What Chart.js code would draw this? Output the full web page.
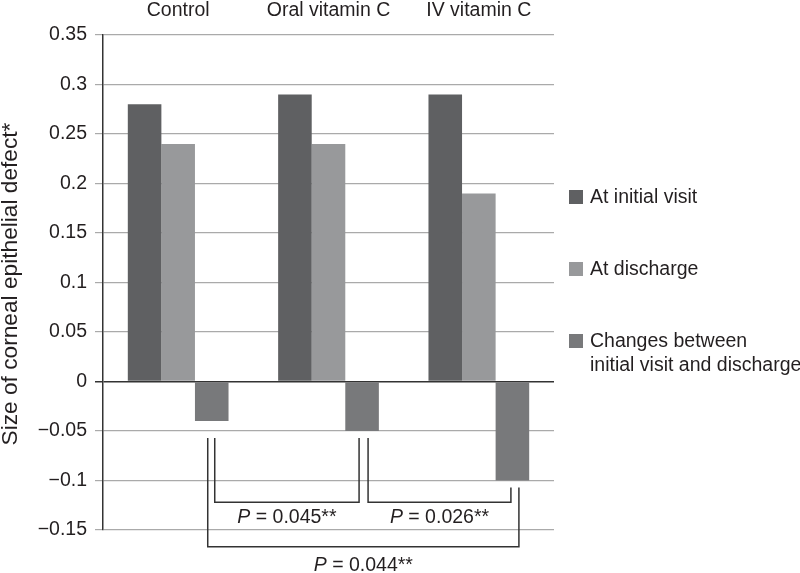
<!DOCTYPE html>
<html>
<head>
<meta charset="utf-8">
<script src="https://cdn.jsdelivr.net/npm/chart.js@4.4.1/dist/chart.umd.min.js"></script>
<style>
  html, body { margin: 0; padding: 0; background: #fff; }
  #wrap { width: 800px; height: 573px; position: relative; }
</style>
</head>
<body>
<div id="wrap"><canvas id="c" width="800" height="573"></canvas></div>
<script>
// ---- data ----
const categories = ['Control', 'Oral vitamin C', 'IV vitamin C'];
const seriesLabels = ['At initial visit', 'At discharge', 'Changes between\ninitial visit and discharge'];
const initialVisit = [0.28, 0.29, 0.29];
const atDischarge = [0.24, 0.24, 0.19];
const changes = [-0.04, -0.05, -0.10];
const yMin = -0.15, yMax = 0.35, yStep = 0.05;
const yTitle = 'Size of corneal epithelial defect*';
// comparisons between groups (indices into categories) with P values
const compFrom = [0, 1, 0];
const compTo = [1, 2, 2];
const compLevel = [-0.122, -0.122, -0.167];
const compP = ['0.045', '0.026', '0.044'];

const colors = ['#5f6062', '#98999b', '#78797b'];
const FONT = '"Liberation Sans", Arial, Helvetica, sans-serif';
const TEXT = '#231f20';

const fmt = v => {
  const r = Math.round(v * 100) / 100;
  const s = String(Math.abs(r));
  return r < 0 ? '\u2212' + s : s;
};

const extras = {
  id: 'extras',
  afterDraw(chart) {
    const ctx = chart.ctx;
    const y = chart.scales.y;
    const meta = chart.getDatasetMeta(2);
    ctx.save();
    // y title
    ctx.save();
    ctx.font = '22.7px ' + FONT;
    ctx.fillStyle = TEXT;
    ctx.textAlign = 'center';
    ctx.textBaseline = 'alphabetic';
    ctx.translate(17, 284);
    ctx.rotate(-Math.PI / 2);
    ctx.fillText(yTitle, 0, 0);
    ctx.restore();

    // legend
    const legY = [198, 270, 342];
    seriesLabels.forEach((lab, i) => {
      ctx.fillStyle = colors[i];
      ctx.fillRect(569, legY[i] - 8, 14, 14);
      ctx.fillStyle = TEXT;
      ctx.font = '19.5px ' + FONT;
      ctx.textAlign = 'left';
      ctx.textBaseline = 'middle';
      lab.split('\n').forEach((ln, k) => ctx.fillText(ln, 590, legY[i] + k * 24));
    });

    // comparison brackets
    ctx.strokeStyle = '#333';
    ctx.lineWidth = 1.5;
    const offs = [[3, -3], [6, -1.5], [-4, 6.5]];
    compFrom.forEach((a, i) => {
      const b = compTo[i];
      const xa = meta.data[a].x + offs[i][0];
      const xb = meta.data[b].x + offs[i][1];
      const ya = y.getPixelForValue(Math.min(changes[a], -0.05) - 0.007);
      const yb = y.getPixelForValue(Math.min(changes[b], -0.05) - 0.007);
      const yl = y.getPixelForValue(compLevel[i]);
      ctx.beginPath();
      ctx.moveTo(xa, ya); ctx.lineTo(xa, yl); ctx.lineTo(xb, yl); ctx.lineTo(xb, yb);
      ctx.stroke();
      // label
      const cx = (xa + xb) / 2;
      const ty = yl + (i === 2 ? 19 : 15);
      ctx.textBaseline = 'middle';
      ctx.textAlign = 'left';
      ctx.font = 'italic 19.5px ' + FONT;
      const wP = ctx.measureText('P').width;
      ctx.font = '19.5px ' + FONT;
      const rest = ' = ' + compP[i] + '**';
      const wR = ctx.measureText(rest).width;
      const x0 = cx - (wP + wR) / 2;
      ctx.fillStyle = TEXT;
      ctx.font = 'italic 19.5px ' + FONT;
      ctx.fillText('P', x0, ty);
      ctx.font = '19.5px ' + FONT;
      ctx.fillText(rest, x0 + wP, ty);
    });
    ctx.restore();
  }
};

new Chart(document.getElementById('c'), {
  type: 'bar',
  data: {
    labels: categories,
    datasets: [
      { label: seriesLabels[0], data: initialVisit, backgroundColor: colors[0] },
      { label: seriesLabels[1], data: atDischarge, backgroundColor: colors[1] },
      { label: seriesLabels[2], data: changes, backgroundColor: colors[2] }
    ]
  },
  options: {
    responsive: false,
    devicePixelRatio: 1,
    animation: false,
    layout: { padding: { top: 0, left: 0, right: 246, bottom: 43 } },
    datasets: { bar: { categoryPercentage: 0.67, barPercentage: 1.0, borderWidth: 0 } },
    plugins: { legend: { display: false }, tooltip: { enabled: false } },
    scales: {
      x: {
        position: 'top',
        grid: { display: false, drawTicks: false },
        border: { display: false },
        ticks: { font: { family: FONT, size: 19.5 }, color: TEXT, padding: 13, maxRotation: 0 },
        afterFit(s) { s.height = 35; }
      },
      y: {
        min: yMin, max: yMax,
        ticks: {
          stepSize: yStep,
          font: { family: FONT, size: 19.5 },
          color: TEXT,
          padding: 8,
          callback: v => fmt(v)
        },
        grid: {
          color: c => (Math.abs(c.tick.value) < 1e-9 ? '#333' : '#aaa'),
          lineWidth: c => (Math.abs(c.tick.value) < 1e-9 ? 1.5 : 1.2),
          tickLength: 8
        },
        border: { color: '#333', width: 1.5 },
        afterFit(s) { s.width = 103; }
      }
    }
  },
  plugins: [extras]
});
</script>
</body>
</html>
